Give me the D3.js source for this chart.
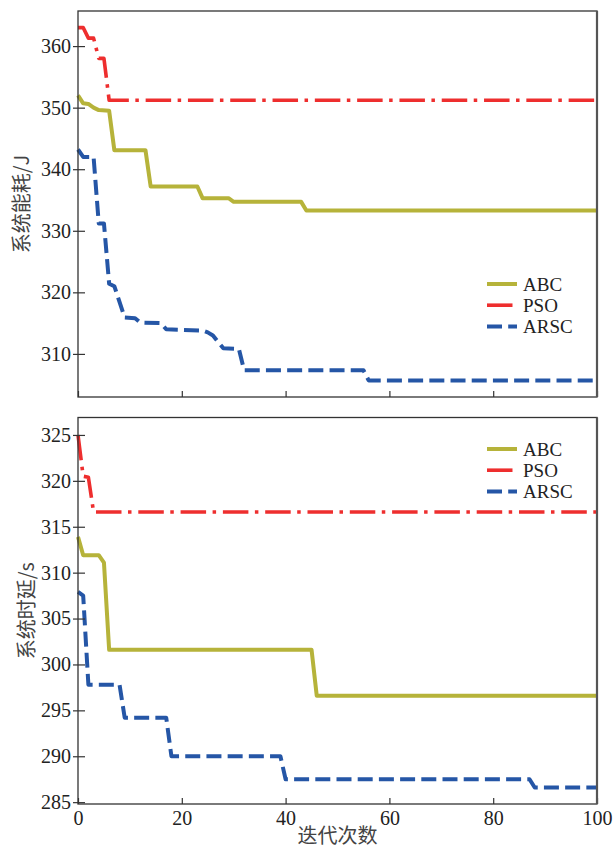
<!DOCTYPE html>
<html>
<head>
<meta charset="utf-8">
<script src="https://cdn.jsdelivr.net/npm/d3@7/dist/d3.min.js"></script>
<style>
  body { margin: 0; background: #fff; }
  svg { display: block; }
</style>
</head>
<body>
<script>
'use strict';

// iterations on the x axis (shared by both panels)
const iterTicks = [0, 20, 40, 60, 80, 100];
const seriesNames = ['ABC', 'PSO', 'ARSC'];

// top panel: system energy (J), vertices [iteration, value]
const energyTicks = [310, 320, 330, 340, 350, 360];
const energyABC = [[0, 352.0], [1, 350.7], [2, 350.6], [3, 350.0], [4, 349.6], [6, 349.5], [7, 343.1],
  [13, 343.1], [14, 337.2], [23, 337.2], [24, 335.3], [29, 335.3], [30, 334.7], [43, 334.7],
  [44, 333.3], [100, 333.3]];
const energyPSO = [[0, 363.0], [1, 363.0], [2, 361.3], [3, 361.3], [4, 358.0], [5, 358.0],
  [6, 351.2], [100, 351.2]];
const energyARSC = [[0, 343.2], [1, 342.0], [3, 342.0], [4, 331.2], [5, 331.2], [6, 321.4],
  [7, 321.0], [9, 315.9], [11, 315.8], [12, 315.1], [16, 315.0], [17, 314.0], [24, 313.8],
  [25, 313.5], [26, 313.0], [28, 310.9], [31, 310.8], [32, 307.35], [55, 307.35], [56, 305.7],
  [100, 305.7]];

// bottom panel: system delay (s)
const delayTicks = [285, 290, 295, 300, 305, 310, 315, 320, 325];
const delayABC = [[0, 313.9], [1, 311.9], [4, 311.9], [5, 311.1], [6, 301.6], [45, 301.6],
  [46, 296.6], [100, 296.6]];
const delayPSO = [[0, 325.0], [1, 320.5], [2, 320.4], [3, 316.6], [100, 316.6]];
const delayARSC = [[0, 307.9], [1, 307.5], [2, 297.8], [8, 297.8], [9, 294.2], [17, 294.2],
  [18, 290.0], [39, 290.0], [40, 287.5], [87, 287.5], [88, 286.6], [100, 286.6]];

const W = 614, H = 851;
const left = 78, right = 597;
const serif = "'Liberation Serif', 'Times New Roman', serif";
const cjk = "'Noto Sans CJK SC', sans-serif";

const styles = {
  ABC: { color: '#b6b33a', dash: null, width: 4 },
  PSO: { color: '#ee2e2e', dash: '25.5,6.5,3.5,6.8', width: 3.6 },
  ARSC: { color: '#2556a6', dash: '15,6.2', width: 4 }
};

const svg = d3.select('body').append('svg')
  .attr('width', W)
  .attr('height', H);

const x = d3.scaleLinear().domain([0, 100]).range([left, right]);

function drawPanel(p) {
  const y = d3.scaleLinear().domain(p.domain).range([p.bottom, p.top]);
  const g = svg.append('g');

  const line = d3.line()
    .x((d) => x(d[0]))
    .y((d) => y(d[1]));

  seriesNames.forEach((name, i) => {
    const s = styles[name];
    g.append('path')
      .datum(p.series[i])
      .attr('d', line)
      .attr('fill', 'none')
      .attr('stroke', s.color)
      .attr('stroke-width', s.width)
      .attr('stroke-dasharray', s.dash)
      .attr('stroke-linejoin', 'round');
  });

  // y axis, ticks cross the spine
  const ya = g.append('g')
    .attr('transform', `translate(${left},0)`)
    .call(d3.axisLeft(y).tickValues(p.ticks).tickSizeInner(5).tickSizeOuter(0).tickPadding(2));
  ya.select('.domain').remove();
  ya.selectAll('.tick line').attr('x1', 7).attr('stroke', '#333').attr('stroke-width', 1.2);
  ya.selectAll('.tick text')
    .attr('font-family', serif).attr('font-size', 20).attr('fill', '#222');

  // x axis, inward ticks
  const xa = g.append('g')
    .attr('transform', `translate(0,${p.bottom})`)
    .call(d3.axisBottom(x).tickValues(iterTicks).tickSizeInner(-6).tickSizeOuter(0).tickPadding(7)
      .tickFormat(p.xLabels ? d3.format('d') : () => ''));
  xa.select('.domain').remove();
  xa.selectAll('.tick line').attr('stroke', '#333').attr('stroke-width', 1.2);
  xa.selectAll('.tick text')
    .attr('font-family', serif).attr('font-size', 20).attr('fill', '#222');

  // frame
  g.append('rect')
    .attr('x', left).attr('y', p.top)
    .attr('width', right - left).attr('height', p.bottom - p.top)
    .attr('fill', 'none').attr('stroke', '#333').attr('stroke-width', 1.3);
  g.append('line')
    .attr('x1', right).attr('x2', right).attr('y1', p.top).attr('y2', p.bottom)
    .attr('stroke', '#555').attr('stroke-width', 2.2);

  // y label
  g.append('text')
    .attr('transform', `translate(${p.labelX},${(p.top + p.bottom) / 2}) rotate(-90)`)
    .attr('text-anchor', 'middle')
    .attr('dy', '0.35em')
    .attr('font-family', cjk).attr('font-size', 20).attr('fill', '#444')
    .text(p.label);

  // legend
  seriesNames.forEach((name, i) => {
    const s = styles[name];
    const ly = p.legendY + i * 21.2;
    g.append('line')
      .attr('x1', 487).attr('x2', 517).attr('y1', ly).attr('y2', ly)
      .attr('stroke', s.color).attr('stroke-width', s.width)
      .attr('stroke-dasharray', s.dash);
    g.append('text')
      .attr('x', 523).attr('y', ly).attr('dy', '0.35em')
      .attr('font-family', serif).attr('font-size', 19).attr('fill', '#222')
      .text(name);
  });
}

drawPanel({
  top: 11, bottom: 397, domain: [303, 365.7], ticks: energyTicks,
  series: [energyABC, energyPSO, energyARSC], label: '系统能耗/J', labelX: 22,
  legendY: 284, xLabels: false
});

drawPanel({
  top: 417.5, bottom: 804, domain: [284.8, 326.9], ticks: delayTicks,
  series: [delayABC, delayPSO, delayARSC], label: '系统时延/s', labelX: 27,
  legendY: 449, xLabels: true
});

svg.append('text')
  .attr('x', (left + right) / 2).attr('y', 843)
  .attr('text-anchor', 'middle')
  .attr('font-family', cjk).attr('font-size', 20).attr('fill', '#444')
  .text('迭代次数');
</script>
</body>
</html>
